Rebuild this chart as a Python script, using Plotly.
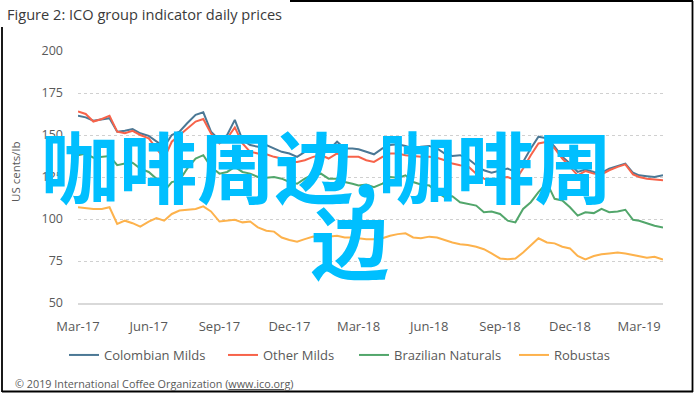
import pandas as pd
import plotly.graph_objects as go

months = pd.date_range("2017-03-01", "2019-03-01", freq="MS")
dates = []
for m in months:
    for d in (1, 11, 21):
        dates.append(m + pd.Timedelta(days=d - 1))
dates.append(pd.Timestamp("2019-04-01"))

colombian_milds = [
    161.5, 160.5, 158.5, 159.5, 160, 152, 152.5, 153.5, 151, 149.5, 146, 143,
    150, 152, 157, 162, 163.5, 152, 147, 150, 159, 147, 144, 143,
    144, 142, 140, 139, 137, 140,
    142, 143, 141, 146, 142, 142, 141.5, 140, 138.5, 142, 144, 144.5,
    143.5, 142, 143, 143.5, 142, 139, 137.5, 138, 136, 132, 129, 127.5,
    129, 130, 128, 134, 142, 149, 148, 143, 137, 133, 128, 129.5,
    128, 127.5, 130, 131.5, 133, 127.5, 126, 125.5, 125, 126,
]
other_milds = [
    164, 162.5, 158, 159.5, 161.5, 152, 151, 152.5, 150, 148, 142, 136,
    146, 150, 154, 158, 159.5, 151, 145, 148, 154.5, 145, 140, 139,
    138.5, 137, 136, 134, 134, 135,
    137, 138, 136, 139, 137, 137, 137, 135, 134, 137, 139, 139,
    138, 137.5, 137, 137, 136.5, 135, 133, 132, 131.5, 127, 124, 122.5,
    124.5, 125, 123, 130, 138, 145, 146, 142, 136, 131, 126, 128.5,
    127, 126.5, 129, 131, 132.5, 126.5, 125, 124, 123.5, 123,
]
brazilian_naturals = [
    138, 139, 136.5, 137, 137.5, 132, 133, 133.5, 130, 128, 124, 116.5,
    122, 123, 130, 136, 138, 131, 127, 128, 131, 128, 127, 125,
    124.5, 125, 124, 122, 121, 124,
    126.5, 127, 124, 124, 122, 121, 120, 120.5, 119, 121, 125, 124.5,
    126, 122, 120.5, 120, 116, 113, 113.5, 110, 109, 108, 104, 104.5,
    103, 99, 98, 106, 110, 116, 121.5, 112, 111, 107, 102, 104,
    103.5, 106, 104, 104.5, 105.5, 99.5, 99, 97.5, 96, 95,
]
robustas = [
    107, 106.5, 106, 106, 107, 97, 99, 97.5, 95.5, 98.5, 100.5, 99,
    103, 105, 105.5, 106, 107.5, 104.5, 98.5, 99, 99.5, 98, 98.5, 95,
    93, 92.5, 89, 87.5, 86.5, 88,
    89.5, 89, 89.5, 90, 89, 89, 88.5, 88, 88, 88.5, 90, 91,
    91.5, 89, 88.5, 89.5, 89, 87.5, 86, 85, 84.5, 83.5, 82, 79.5,
    76.5, 76, 76.5, 80, 84.5, 88.5, 86, 85.5, 83.5, 82.5, 78, 76,
    78, 79, 79.5, 80, 79.5, 78.5, 78, 77, 77.5, 75.8,
]

series_names = ["Colombian Milds", "Other Milds", "Brazilian Naturals", "Robustas"]
series_values = [colombian_milds, other_milds, brazilian_naturals, robustas]
series_colors = ["#4B7895", "#F7634A", "#52A66B", "#FDB24C"]

y_ticks = [50, 75, 100, 125, 150, 175, 200]
x_tick_dates = pd.date_range("2017-03-01", "2019-03-01", freq="3MS")

title_text = "Figure 2: ICO group indicator daily prices"
y_title = "US cents/lb"
footer_text = "© 2019 International Coffee Organization (<u>www.ico.org</u>)"
watermark_line1 = "咖啡周边,咖啡周"
watermark_line2 = "边"

# ---------------- layout geometry ----------------
W, H = 695, 394
ML, MR, MT, MB = 78, 32, 51, 91
PW, PH = W - ML - MR, H - MT - MB


def px2x(px):
    return (px - ML) / PW


def py2y(py):
    return (H - MB - py) / PH


FONT = "Open Sans, Liberation Sans, Arial, sans-serif"
GREY = "#595959"
LEGEND_LEFT_PX = [64, 223, 354, 514]
LEGEND_KEYS = ["legend", "legend2", "legend3", "legend4"]

fig = go.Figure()
for name, vals, col, lk in zip(series_names, series_values, series_colors, LEGEND_KEYS):
    fig.add_trace(go.Scatter(
        x=dates, y=vals, name=name, mode="lines",
        line=dict(color=col, width=2), legend=lk,
    ))

fig.update_layout(
    width=W, height=H,
    margin=dict(l=ML, r=MR, t=MT, b=MB, pad=0, autoexpand=False),
    paper_bgcolor="white", plot_bgcolor="white",
    font=dict(family=FONT, size=12, color=GREY),
    showlegend=True,
    xaxis=dict(
        type="date",
        range=["2017-03-01", "2019-04-01"],
        tickvals=list(x_tick_dates),
        tickformat="%b-%y",
        showgrid=False, zeroline=False,
        showline=True, linecolor="#D9D9D9", linewidth=1.5,
        ticks="", ticklabelstandoff=11,
        tickfont=dict(family=FONT, size=13, color=GREY),
    ),
    yaxis=dict(
        range=[50, 200],
        tickvals=y_ticks,
        showgrid=True, gridcolor="#D0D0D0", griddash="dot", gridwidth=1,
        zeroline=False, showline=False, ticks="",
        ticklabelstandoff=14,
        tickfont=dict(family=FONT, size=12.5, color=GREY),
    ),
)
for lk, lx in zip(LEGEND_KEYS, LEGEND_LEFT_PX):
    fig.update_layout({lk: dict(
        orientation="h", xref="container", yref="container",
        x=lx / W, xanchor="left", y=1 - 355 / H, yanchor="middle",
        font=dict(family=FONT, size=13, color=GREY),
        itemwidth=30, bgcolor="rgba(0,0,0,0)",
    )})

annotations = [
    dict(text=title_text, x=px2x(5), y=py2y(14), xanchor="left", yanchor="middle",
         font=dict(family=FONT, size=14.6, color="#3A3A3A")),
    dict(text=y_title, x=px2x(15), y=py2y(172), xanchor="center", yanchor="middle",
         textangle=-90, font=dict(family=FONT, size=11.5, color=GREY)),
    dict(text=footer_text, x=px2x(13), y=py2y(383), xanchor="left", yanchor="middle",
         font=dict(family=FONT, size=10.8, color=GREY)),
    dict(text="<b>" + watermark_line1 + "</b>", x=px2x(326), y=py2y(164),
         xanchor="center", yanchor="middle",
         font=dict(family="Noto Sans CJK SC", size=78, color="#00BFFF")),
    dict(text="<b>" + watermark_line2 + "</b>", x=px2x(350), y=py2y(240),
         xanchor="center", yanchor="middle",
         font=dict(family="Noto Sans CJK SC", size=78, color="#00BFFF")),
]
for a in annotations:
    a.update(xref="paper", yref="paper", showarrow=False)
fig.update_layout(annotations=annotations)

# frame around the picture (broken behind the title)
frame = [
    (290, 1, 693, 1), (692.5, 1, 692.5, 392), (2, 391.5, 693, 391.5), (2, 27, 2, 392),
]
shapes = []
for x0, y0, x1, y1 in frame:
    shapes.append(dict(type="line", xref="paper", yref="paper",
                       x0=px2x(x0), y0=py2y(y0), x1=px2x(x1), y1=py2y(y1),
                       line=dict(color="black", width=1.8)))
fig.update_layout(shapes=shapes)

fig.write_html(
    "out.html",
    config={"displayModeBar": False},
    post_script="document.body.style.margin='0';document.body.style.overflow='hidden';",
)
